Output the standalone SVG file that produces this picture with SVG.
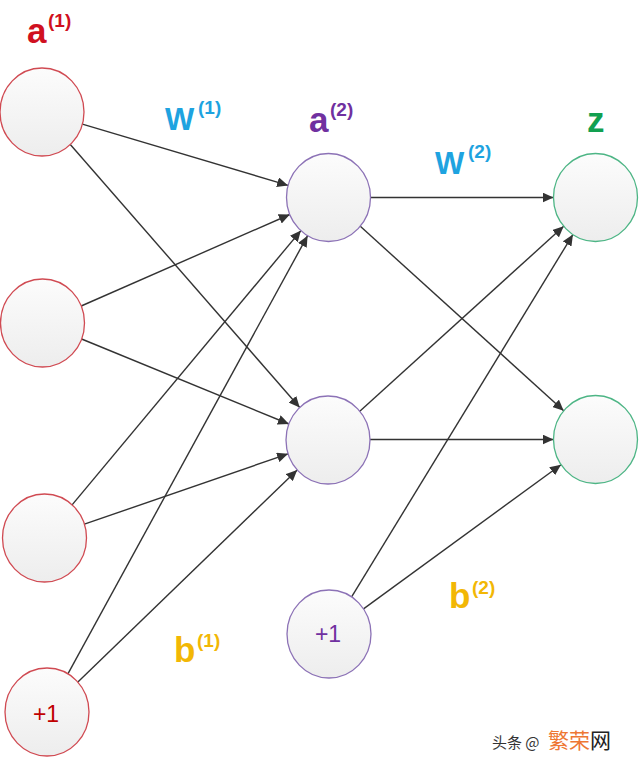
<svg xmlns="http://www.w3.org/2000/svg" width="640" height="760" viewBox="0 0 640 760">
  <defs>
    <linearGradient id="nodeFill" x1="0" y1="0" x2="0" y2="1">
      <stop offset="0" stop-color="#fcfcfc"/>
      <stop offset="1" stop-color="#ededed"/>
    </linearGradient>
    <marker id="arrow" markerUnits="userSpaceOnUse" markerWidth="12" markerHeight="10" refX="11" refY="5" orient="auto">
      <path d="M0,0 L11,5 L0,10 Z" fill="#333333"/>
    </marker>
  </defs>
  <style>
    .node { fill: url(#nodeFill); stroke-width: 1.3; }
    .in { stroke: #d04a52; }
    .hid { stroke: #8c72b6; }
    .out { stroke: #4db585; }
    .edge { stroke: #333333; stroke-width: 1.4; fill: none; marker-end: url(#arrow); }
    .lbl { font-family: "Liberation Sans", Arial, sans-serif; font-weight: bold; }
    .big { font-size: 35px; }
    .w { font-size: 31px; }
    .sup { font-size: 19px; }
    .one { font-family: "Liberation Sans", Arial, sans-serif; font-size: 23px; text-anchor: middle; }
    .red { fill: #d01020; }
    .blue { fill: #1ea3e0; }
    .purple { fill: #7030a0; }
    .green { fill: #12a050; }
    .gold { fill: #f2b705; }
    .wm { font-family: "Noto Sans CJK SC", "Liberation Sans", sans-serif; }
  </style>
  <rect width="640" height="760" fill="#ffffff"/>

  <g id="connectors">
    <line class="edge" x1="82.4" y1="124.1" x2="288.1" y2="185.4"/>
    <line class="edge" x1="70.3" y1="144.5" x2="299.7" y2="407.5"/>
    <line class="edge" x1="81.2" y1="306.0" x2="289.8" y2="214.5"/>
    <line class="edge" x1="81.6" y1="339.0" x2="288.9" y2="424.0"/>
    <line class="edge" x1="72.1" y1="504.9" x2="300.9" y2="230.6"/>
    <line class="edge" x1="84.4" y1="524.2" x2="288.1" y2="453.8"/>
    <line class="edge" x1="67.9" y1="673.8" x2="307.6" y2="235.7"/>
    <line class="edge" x1="77.9" y1="682.1" x2="297.2" y2="469.9"/>
    <line class="edge" x1="370.5" y1="197.5" x2="553.5" y2="197.5"/>
    <line class="edge" x1="360.3" y1="226.3" x2="563.7" y2="410.7"/>
    <line class="edge" x1="359.8" y1="411.2" x2="563.7" y2="226.3"/>
    <line class="edge" x1="370" y1="439.5" x2="553.5" y2="439.5"/>
    <line class="edge" x1="351.6" y1="596.9" x2="572.9" y2="234.6"/>
    <line class="edge" x1="363.5" y1="608.9" x2="561.0" y2="464.7"/>
  </g>

  <g id="input1"><ellipse class="node in" cx="42" cy="112" rx="42" ry="44"/></g>
  <g id="input2"><ellipse class="node in" cx="42.5" cy="323" rx="42" ry="44"/></g>
  <g id="input3"><ellipse class="node in" cx="44.5" cy="538" rx="42" ry="44"/></g>
  <g id="bias1">
    <ellipse class="node in" cx="47" cy="712" rx="42" ry="44"/>
    <text class="one" x="46" y="722" fill="#c00000">+1</text>
  </g>

  <g id="hidden1"><ellipse class="node hid" cx="328.5" cy="197.5" rx="42" ry="44"/></g>
  <g id="hidden2"><ellipse class="node hid" cx="328" cy="440" rx="42" ry="44"/></g>
  <g id="bias2">
    <ellipse class="node hid" cx="329" cy="634" rx="42" ry="44"/>
    <text class="one" x="328" y="642" fill="#7030a0">+1</text>
  </g>

  <g id="output1"><ellipse class="node out" cx="595.5" cy="197.5" rx="42" ry="44"/></g>
  <g id="output2"><ellipse class="node out" cx="595.5" cy="439.5" rx="42" ry="44"/></g>

  <g id="labels">
    <text class="lbl red"><tspan class="big" x="27" y="43">a</tspan><tspan class="sup" x="48" y="27">(1)</tspan></text>
    <text class="lbl blue"><tspan class="w" x="165" y="130">W</tspan><tspan class="sup" x="198" y="114">(1)</tspan></text>
    <text class="lbl purple"><tspan class="big" x="309" y="132">a</tspan><tspan class="sup" x="330" y="116">(2)</tspan></text>
    <text class="lbl green"><tspan class="big" x="587" y="132">z</tspan></text>
    <text class="lbl blue"><tspan class="w" x="435" y="174">W</tspan><tspan class="sup" x="468" y="158">(2)</tspan></text>
    <text class="lbl gold"><tspan class="big" x="174" y="662">b</tspan><tspan class="sup" x="197" y="647">(1)</tspan></text>
    <text class="lbl gold"><tspan class="big" x="449" y="608">b</tspan><tspan class="sup" x="472" y="594">(2)</tspan></text>
  </g>

  <g id="watermark">
    <text class="wm" y="748"><tspan x="492" font-size="15" fill="#333333">头条 @</tspan><tspan x="548" font-size="21" fill="#ee7733">繁荣</tspan><tspan font-size="21" fill="#222222">网</tspan></text>
  </g>
</svg>
